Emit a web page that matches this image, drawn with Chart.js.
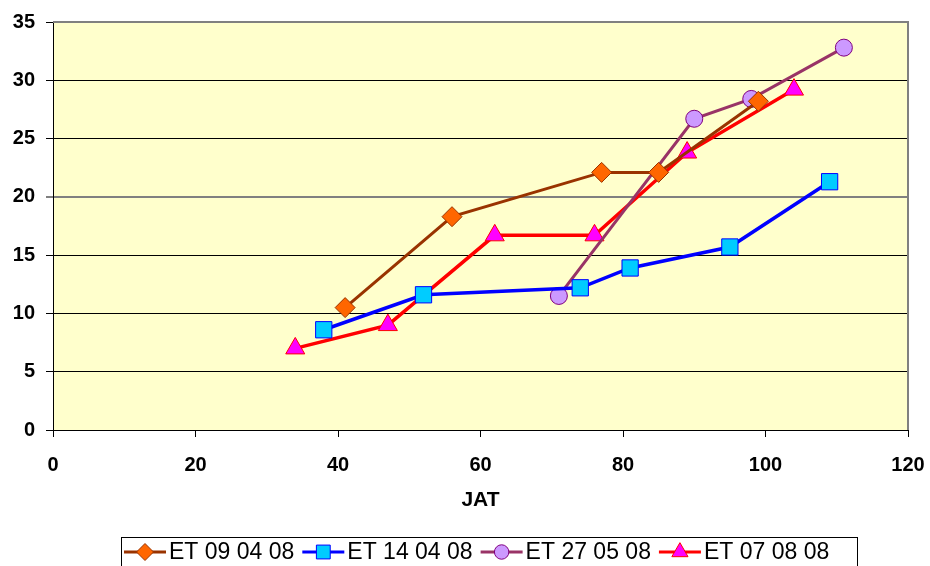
<!DOCTYPE html>
<html>
<head>
<meta charset="utf-8">
<script src="https://cdn.jsdelivr.net/npm/chart.js@4/dist/chart.umd.min.js"></script>
<style>
    html, body { margin: 0; padding: 0; background: #ffffff; }
    #wrap { width: 930px; height: 566px; }
</style>
</head>
<body>
<div id="wrap"><canvas id="chart" width="930" height="566"></canvas></div>
<script>
// séries (JAT, valeur)
const labelsSeries = ['ET 09 04 08', 'ET 14 04 08', 'ET 27 05 08', 'ET 07 08 08'];

const jat0904 = [41, 56, 77, 85, 99];
const val0904 = [10.5, 18.3, 22.1, 22.1, 28.2];

const jat1404 = [38, 52, 74, 81, 95, 109];
const val1404 = [8.6, 11.6, 12.2, 13.9, 15.7, 21.3];

const jat2705 = [71, 90, 98, 111];
const val2705 = [11.5, 26.7, 28.4, 32.8];

const jat0708 = [34, 47, 62, 76, 89, 104];
const val0708 = [7.0, 9.0, 16.7, 16.7, 23.8, 29.2];

const xTicks = [0, 20, 40, 60, 80, 100, 120];
const yTicks = [0, 5, 10, 15, 20, 25, 30, 35];

const toPoints = (xs, ys) => xs.map((x, i) => ({ x: x, y: ys[i] }));

const styles = [
    { line: '#993300', fill: '#FF6600', border: '#993300', shape: 'rectRot', radius: 10, width: 3 },
    { line: '#0000FF', fill: '#00CCFF', border: '#0000FF', shape: 'rect', radius: 11.5, width: 3.5 },
    { line: '#993366', fill: '#CC99FF', border: '#800080', shape: 'circle', radius: 8.5, width: 3 },
    { line: '#FF0000', fill: '#FF00FF', border: '#FF0000', shape: 'triangle', radius: 11, width: 3.5 }
];

const seriesData = [
    toPoints(jat0904, val0904),
    toPoints(jat1404, val1404),
    toPoints(jat2705, val2705),
    toPoints(jat0708, val0708)
];

const datasets = seriesData.map((pts, i) => ({
    label: labelsSeries[i],
    data: pts,
    showLine: true,
    borderColor: styles[i].line,
    borderWidth: styles[i].width,
    pointStyle: styles[i].shape,
    pointRadius: styles[i].radius,
    pointHoverRadius: styles[i].radius,
    pointBackgroundColor: styles[i].fill,
    pointBorderColor: styles[i].border,
    pointBorderWidth: 1,
    tension: 0
}));

// fond jaune de la zone de tracé + cadre gris haut/droite
const plotBackground = {
    id: 'plotBackground',
    beforeDraw(chart) {
        const { ctx, chartArea: a } = chart;
        ctx.save();
        ctx.fillStyle = '#FFFFCC';
        ctx.fillRect(a.left, a.top, a.right - a.left, a.bottom - a.top);
        ctx.restore();
    },
    afterDraw(chart) {
        const { ctx, chartArea: a } = chart;
        ctx.save();
        ctx.strokeStyle = '#808080';
        ctx.lineWidth = 2;
        ctx.beginPath();
        ctx.moveTo(a.left, a.top);
        ctx.lineTo(a.right, a.top);
        ctx.lineTo(a.right, a.bottom);
        ctx.stroke();
        ctx.restore();
    }
};

// légende encadrée en bas, avec trait + marqueur
const boxLegend = {
    id: 'boxLegend',
    afterDraw(chart) {
        const ctx = chart.ctx;
        ctx.save();
        ctx.font = '23px "Liberation Sans", Arial, sans-serif';
        const symW = 42, gapAfterSym = 3, gapItem = 8;
        const boxX = 121.5, boxY = 537.5, boxW = 736;
        const yMid = 552;
        ctx.strokeStyle = '#000000';
        ctx.lineWidth = 1;
        ctx.strokeRect(boxX, boxY, boxW, 40);

        let x = 124;
        labelsSeries.forEach((t, i) => {
            const s = styles[i];
            ctx.strokeStyle = s.line;
            ctx.lineWidth = 3;
            ctx.beginPath();
            ctx.moveTo(x, yMid);
            ctx.lineTo(x + symW, yMid);
            ctx.stroke();
            ctx.fillStyle = s.fill;
            ctx.strokeStyle = s.border;
            ctx.lineWidth = 1;
            Chart.helpers.drawPoint(ctx, {
                pointStyle: s.shape,
                radius: s.radius * 0.85,
                borderWidth: 1
            }, x + symW / 2, yMid);
            ctx.fillStyle = '#000000';
            ctx.textBaseline = 'middle';
            ctx.textAlign = 'left';
            ctx.fillText(t, x + symW + gapAfterSym, yMid + 1);
            x += symW + gapAfterSym + ctx.measureText(t).width + gapItem;
        });
        ctx.restore();
    }
};

const tickFont = { family: '"Liberation Sans", Arial, sans-serif', size: 20, weight: 'bold' };

new Chart(document.getElementById('chart'), {
    type: 'scatter',
    data: { datasets: datasets },
    options: {
        responsive: false,
        animation: false,
        layout: { padding: { top: 22, right: 22, bottom: 53, left: 0 } },
        plugins: {
            legend: { display: false },
            tooltip: { enabled: false }
        },
        scales: {
            x: {
                type: 'linear',
                min: 0,
                max: 120,
                afterBuildTicks: (axis) => { axis.ticks = xTicks.map(v => ({ value: v })); },
                afterFit: (axis) => {
                    axis.height = 83;
                    axis.paddingLeft = 0;
                    axis.paddingRight = 0;
                },
                ticks: { font: tickFont, color: '#000000', padding: 16, maxRotation: 0 },
                grid: { drawOnChartArea: false, drawTicks: true, tickLength: 7, color: '#000000' },
                border: { color: '#000000', width: 1 },
                title: {
                    display: true,
                    text: 'JAT',
                    font: { family: '"Liberation Sans", Arial, sans-serif', size: 21, weight: 'bold' },
                    color: '#000000',
                    padding: { top: 0, bottom: 0 }
                }
            },
            y: {
                type: 'linear',
                min: 0,
                max: 35,
                afterBuildTicks: (axis) => { axis.ticks = yTicks.map(v => ({ value: v })); },
                afterFit: (axis) => {
                    axis.width = 53;
                    axis.paddingTop = 0;
                    axis.paddingBottom = 0;
                },
                ticks: { font: tickFont, color: '#000000', padding: 11 },
                grid: {
                    tickLength: 7,
                    color: (c) => (c.tick && (c.tick.value === 20) ? '#808080' : '#000000'),
                    lineWidth: (c) => (c.tick && (c.tick.value === 20) ? 2 : 1)
                },
                border: { color: '#000000', width: 1 }
            }
        }
    },
    plugins: [plotBackground, boxLegend]
});
</script>
</body>
</html>
